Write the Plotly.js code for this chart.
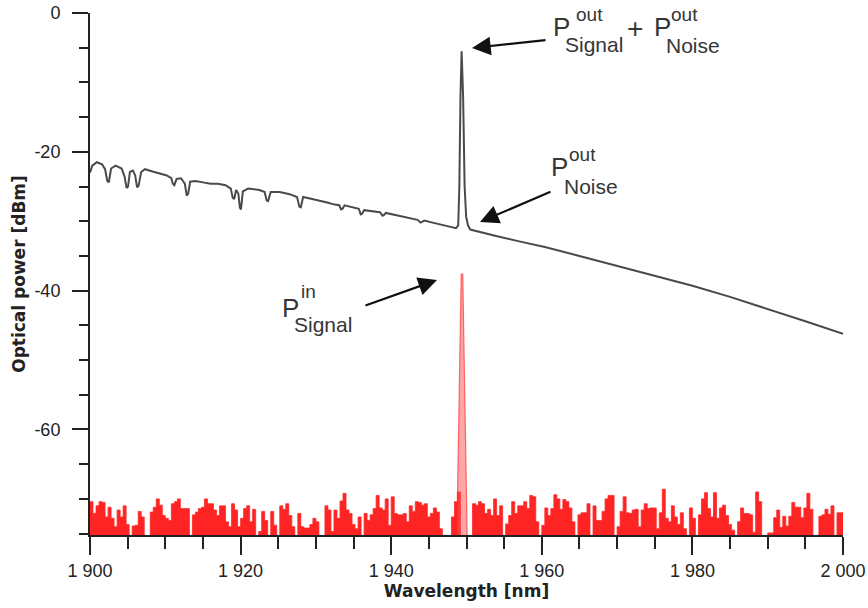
<!DOCTYPE html>
<html>
<head>
<meta charset="utf-8">
<script src="https://cdn.plot.ly/plotly-3.0.1.min.js"></script>
<style>html,body{margin:0;padding:0;background:#fff;}</style>
</head>
<body>
<div id="chart" style="width:868px;height:608px;"></div>
<script>
// ---- Output spectrum (signal + ASE noise), wavelength [nm] / power [dBm]
const outWl = [1900.0,1900.3,1900.9,1901.6,1902.0,1902.3,1902.5,1902.8,1903.4,1904.2,1904.6,1904.85,1905.05,1905.3,1905.7,1906.0,1906.25,1906.45,1906.8,1907.3,1908.2,1909.2,1910.2,1910.8,1911.0,1911.2,1911.5,1912.1,1912.6,1912.85,1913.05,1913.3,1914.0,1915.0,1916.0,1917.0,1918.0,1918.7,1918.95,1919.15,1919.4,1919.7,1919.9,1920.05,1920.3,1921.0,1922.5,1923.2,1923.45,1923.65,1924.0,1925.2,1926.5,1927.5,1927.8,1928.0,1928.3,1929.5,1930.5,1931.5,1932.5,1933.1,1933.35,1933.55,1933.8,1935.0,1935.7,1935.95,1936.15,1936.4,1937.5,1938.5,1938.85,1939.05,1939.3,1940.5,1942.0,1943.5,1943.9,1944.1,1944.4,1945.5,1946.3,1947.5,1948.6,1948.9,1949.05,1949.2,1949.35,1949.55,1949.75,1949.95,1950.2,1950.5,1951.5,1953.8,1957.0,1960.4,1965.0,1970.0,1975.0,1980.0,1985.0,1990.0,1995.0,2000.0];
const outPow = [-23.0,-22.0,-21.5,-21.8,-22.5,-24.2,-24.4,-22.4,-22.0,-22.4,-23.6,-25.2,-25.0,-22.9,-22.7,-23.4,-25.1,-24.9,-22.9,-22.5,-22.8,-23.1,-23.4,-23.8,-24.6,-24.8,-23.9,-23.8,-24.6,-26.3,-26.0,-24.3,-24.2,-24.4,-24.6,-24.6,-24.8,-25.3,-26.6,-26.8,-25.5,-26.0,-28.0,-28.3,-25.7,-25.3,-25.5,-25.8,-27.0,-27.1,-25.8,-25.8,-26.1,-26.5,-27.9,-28.0,-26.5,-26.8,-27.0,-27.3,-27.6,-27.7,-28.3,-28.2,-27.7,-28.0,-28.2,-29.0,-28.9,-28.4,-28.6,-28.7,-29.2,-29.1,-28.8,-29.1,-29.5,-29.8,-30.2,-30.1,-29.9,-30.2,-30.4,-30.7,-31.0,-30.6,-25.0,-12.0,-5.5,-12.0,-25.0,-29.3,-30.6,-31.2,-31.5,-32.1,-32.9,-33.7,-35.0,-36.4,-37.8,-39.3,-40.9,-42.6,-44.4,-46.2];

// ---- Input signal: noise floor sampled from 1900 nm every 0.4 nm
const inStart = 1900;
const inStep = 0.4;
const inPow = [
-70.4,-72.1,-71.0,-70.4,-70.5,-72.6,-71.2,-72.8,-74.0,-71.6,
-72.6,-71.0,-73.7,-76,-73.9,-73.8,-71.8,-72.6,-76,-76,
-71.9,-71.2,-70.0,-70.9,-72.4,-72.8,-73.1,-70.7,-70.4,-70.0,
-71.4,-71.4,-71.4,-76,-72.3,-71.9,-71.4,-71.2,-70.0,-70.7,
-70.7,-71.6,-72.4,-71.0,-71.0,-73.3,-74.0,-70.7,-71.6,-74.0,
-72.8,-71.4,-71.0,-73.3,-71.5,-76,-74.7,-71.8,-73.1,-76,
-71.8,-73.8,-76,-71.0,-71.5,-70.7,-72.4,-74.0,-76,-72.1,
-74.0,-74.2,-74.2,-73.7,-72.8,-73.3,-76,-76,-71.0,-71.6,
-74.7,-71.6,-72.8,-70.3,-69.2,-71.6,-72.1,-73.7,-74.3,-72.6,
-76,-72.1,-73.1,-72.3,-71.4,-69.5,-71.3,-71.6,-70.0,-73.8,
-69.7,-72.1,-72.3,-72.3,-72.1,-73.3,-71.0,-71.8,-70.4,-70.5,
-70.9,-70.7,-72.6,-72.1,-71.3,-71.9,-74.3,-76,-76,-76,
-72.6,-70.4,-69.0,-76,-76,-76,-76,-70.7,-70.9,-70.4,
-70.7,-72.1,-71.5,-72.4,-70.0,-72.4,-71.0,-76,-73.6,-72.4,
-70.4,-72.1,-71.0,-71.0,-70.4,-71.4,-69.5,-69.7,-73.3,-76,
-73.8,-71.3,-72.4,-71.4,-69.4,-70.0,-71.5,-70.1,-70.4,-71.3,
-73.3,-76,-72.3,-72.0,-72.0,-70.7,-76,-71.0,-73.1,-73.1,
-71.8,-70.0,-69.5,-69.5,-76,-74.0,-71.8,-69.7,-72.0,-72.1,
-71.6,-71.5,-74.0,-71.6,-70.7,-71.4,-71.3,-71.3,-74.3,-72.0,
-68.6,-72.8,-73.3,-71.0,-72.6,-73.7,-72.0,-74.3,-76,-71.3,
-72.8,-76,-72.3,-70.0,-69.1,-71.4,-72.6,-69.1,-72.8,-71.3,
-70.9,-72.4,-73.7,-74.5,-76,-73.3,-71.3,-72.1,-72.1,-72.3,
-74.8,-69.0,-70.4,-76,-76,-74.9,-74.9,-72.7,-71.6,-74.1,
-72.5,-73.9,-72.5,-70.5,-71.2,-71.2,-72.7,-71.3,-69.2,-71.5,
-76,-76,-72.5,-72.3,-71.5,-72.2,-71.0,-76,-72.0,-72.0,-72.0];
// input signal peak
const peakWl = [1948.7, 1949.3, 1949.5, 1950.1];
const peakPow = [-76, -37.6, -37.6, -76];
const floorLevel = -76;

// ---- Axes
const xTickVals = [1900, 1920, 1940, 1960, 1980, 2000];
const xTickText = ['1 900', '1 920', '1 940', '1 960', '1 980', '2 000'];
const yTickVals = [0, -20, -40, -60];
const yTickText = ['0', '-20', '-40', '-60'];

// ---- plot geometry helpers (pixel -> paper)
const L = 90, R = 25, T = 13, B = 73, W = 868, H = 608;
const pw = W - L - R, ph = H - T - B;
const px = v => (v - L) / pw;
const py = v => (H - B - v) / ph;

const traces = [
  {x: [1900, 2000], y: [floorLevel, floorLevel], mode: 'lines', line: {width: 0, color: 'rgba(0,0,0,0)'}, hoverinfo: 'skip'},
  {x0: inStart, dx: inStep, y: inPow, mode: 'lines', line: {shape: 'hv', width: 1, color: 'rgba(255,40,40,0.8)'},
   fill: 'tonexty', fillcolor: 'rgba(255,0,0,0.86)'},
  {x: peakWl, y: peakPow, mode: 'lines', fill: 'toself', fillcolor: 'rgba(255,80,80,0.5)',
   line: {width: 1.2, color: 'rgba(255,40,40,0.65)'}},
  {x: outWl, y: outPow, mode: 'lines', line: {width: 2, color: '#4a4a4a'}}
];

const annFont = (s) => ({family: 'Liberation Sans, Arial, sans-serif', size: s, color: '#363636'});
function txt(t, x, y, s) {
  return {text: t, xref: 'paper', yref: 'paper', x: px(x), y: py(y), xanchor: 'left', yanchor: 'middle',
          showarrow: false, font: annFont(s)};
}
function arrow(tipX, tipY, tailX, tailY) {
  return {text: '', xref: 'paper', yref: 'paper', x: px(tipX), y: py(tipY), ax: tailX - tipX, ay: tailY - tipY,
          showarrow: true, arrowhead: 2, arrowsize: 1.7, arrowwidth: 2.2, arrowcolor: '#111', standoff: 0};
}

const annotations = [
  txt('P', 551, 27, 26), txt('out', 574, 14, 19), txt('Signal', 563, 45, 21),
  txt('+', 625, 28, 28),
  txt('P', 652, 27, 26), txt('out', 669, 14, 19), txt('Noise', 664, 46, 21),
  txt('P', 549, 167, 26), txt('out', 567, 155, 19), txt('Noise', 562, 186, 21),
  txt('P', 280, 308, 26), txt('in', 299, 291, 19), txt('Signal', 292, 325, 21),
  arrow(472, 48, 547, 40),
  arrow(480, 222, 552, 191),
  arrow(437, 280, 364, 306)
];

const tickFont = {family: 'Liberation Sans, Arial, sans-serif', size: 18, color: '#222'};
const titleFont = {family: 'DejaVu Sans, Verdana, sans-serif', size: 17, color: '#222'};

const layout = {
  width: W, height: H, margin: {l: L, r: R, t: T, b: B},
  paper_bgcolor: '#fff', plot_bgcolor: '#fff', showlegend: false,
  xaxis: {range: [1900, 2000], showline: true, linecolor: '#222', linewidth: 2, mirror: false,
          ticks: 'outside', ticklen: 18, tickwidth: 2, tickcolor: '#222',
          tickmode: 'array', tickvals: xTickVals, ticktext: xTickText, tickfont: tickFont,
          minor: {tick0: 1900, dtick: 5, ticks: 'outside', ticklen: 12, tickwidth: 2, tickcolor: '#222', showgrid: false},
          showgrid: false, zeroline: false, ticklabelstandoff: 0,
          title: {text: '<b>Wavelength [nm]</b>', font: titleFont, standoff: 4}},
  yaxis: {range: [-75.2, 0], showline: true, linecolor: '#222', linewidth: 2,
          ticks: 'outside', ticklen: 16, tickwidth: 2, tickcolor: '#222',
          tickmode: 'array', tickvals: yTickVals, ticktext: yTickText, tickfont: tickFont,
          minor: {tick0: 0, dtick: 5, ticks: 'outside', ticklen: 9, tickwidth: 2, tickcolor: '#222', showgrid: false},
          showgrid: false, zeroline: false, ticklabelstandoff: 8,
          title: {text: '<b>Optical power [dBm]</b>', font: titleFont, standoff: 4}},
  annotations: annotations
};

Plotly.newPlot('chart', traces, layout, {displayModeBar: false, staticPlot: true});
</script>
</body>
</html>
